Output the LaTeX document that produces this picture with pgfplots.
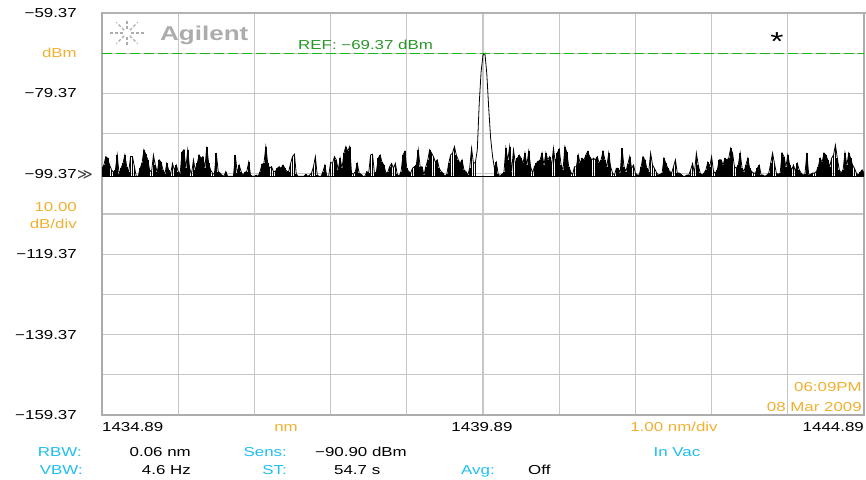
\documentclass[border=0pt]{standalone}
\usepackage{fontspec}
\setmainfont{Liberation Sans}[FakeStretch=1.3]
\newfontfamily\dejavu{DejaVu Sans}
\usepackage{pgfplots}
\usepackage{pgfplotstable}
\pgfplotsset{compat=1.18}
\definecolor{osaorange}{RGB}{240,176,48}
\definecolor{osacyan}{RGB}{30,190,240}
\definecolor{refgreen}{RGB}{40,150,40}
\definecolor{reflinegreen}{RGB}{20,185,20}
\definecolor{gridgray}{RGB}{198,198,198}
\definecolor{logogray}{RGB}{172,172,172}

% OSA trace, one sample every 0.025 nm from 1434.89 nm
\pgfplotstableread{
y
-98
-97.2
-95.1
-95.5
-97.2
-98.4
-99
-98.5
-94.7
-99.5
-98
-96.8
-94.7
-97.6
-99
-95.1
-95.1
-97.6
-100
-100
-98
-96.8
-93.4
-94.5
-95.9
-98.4
-99
-94.7
-97.2
-99
-95.9
-96.5
-98.4
-99.5
-96.8
-98.4
-99.5
-96.8
-98.4
-97.2
-98.8
-99.5
-94
-93.4
-98
-93.5
-98
-99.5
-95.9
-98.5
-96.8
-94.7
-95.5
-95.1
-98
-92.6
-96.8
-98.4
-99.2
-99.5
-94.2
-98.8
-99.2
-99.7
-100
-98.8
-100
-100
-100
-100
-94.7
-99.2
-97.2
-98.8
-99.7
-99
-98.8
-96.5
-99.7
-100
-100
-99.7
-100
-98.8
-97
-96.8
-92.6
-96.8
-98
-97.6
-98.8
-98.8
-98
-97.6
-98
-97.2
-98
-98.8
-98.8
-96.8
-95.1
-94.5
-99.5
-100
-100
-100
-100
-99.5
-100
-99.7
-99.2
-97.6
-95.1
-99.7
-100
-100
-98.8
-97.2
-100
-100
-96.5
-96.8
-95.1
-95.9
-98.5
-95.5
-98
-94.2
-92.6
-93.8
-92.6
-99.2
-99.5
-98.8
-96.8
-99.2
-99.5
-100
-100
-98.8
-99.2
-94.7
-94.5
-99.2
-99
-95.5
-94.7
-96.5
-97.2
-99.2
-99
-97.6
-96.8
-98
-96.8
-99.5
-100
-98.8
-94.7
-93.8
-98
-98.8
-99.2
-98
-97.6
-97.2
-93.4
-97.6
-97.6
-99.7
-97.6
-96
-93.4
-94.2
-95.1
-96.5
-95.9
-98
-98.8
-99.2
-100
-99.5
-96.8
-94.7
-94.2
-92.6
-94.7
-95.9
-96.8
-95.9
-98.4
-98.8
-99.7
-98
-93
-96.8
-96.5
-93.5
-82
-74
-69.8
-69.37
-74.5
-83
-90.5
-95
-98
-96.5
-99.5
-99.8
-99.5
-99
-93
-96
-92.6
-98.8
-93.4
-96.8
-95.5
-94.7
-95.5
-96.8
-94.2
-97.2
-93.8
-97.6
-99.2
-97.6
-96.8
-96.3
-95.9
-94.2
-97.2
-94.2
-95.9
-95.1
-97.2
-93
-96.8
-94.2
-93.2
-97.2
-98.4
-92.6
-94
-97.6
-98.8
-99.7
-97.6
-97.6
-94.7
-96.8
-95.5
-96
-94.7
-93.8
-95.1
-95.9
-95.5
-95.9
-95.1
-96.8
-95.9
-93.8
-95.9
-97.6
-94.2
-97.6
-99.2
-99.7
-98
-98
-99.2
-93
-97.6
-98.8
-97
-95.1
-98
-97.2
-99.2
-99.7
-99.7
-97.6
-95.1
-95.9
-98
-98.8
-94.2
-97.2
-98
-99
-99.7
-99.5
-99.2
-95.5
-96.8
-98
-98.8
-99.2
-97.6
-95.9
-99.2
-99.2
-99.5
-100
-100
-99.7
-99.7
-98.4
-96.8
-99.2
-94.2
-97.2
-99.2
-99.7
-99.2
-98.4
-96.5
-97.6
-95.1
-98.8
-99.2
-98.4
-95.9
-95.9
-97.2
-95.5
-95.9
-95.5
-93
-94.2
-97.6
-98
-97.2
-94.2
-98
-98.8
-97.2
-95.5
-98
-98.8
-99.2
-99.2
-98
-97.2
-99.7
-99.7
-100
-99.7
-99.2
-96.8
-94.2
-96.8
-99.2
-99.5
-99.2
-94.2
-95.1
-97.6
-94.7
-97.2
-98.4
-97.2
-98.8
-96.8
-98.4
-99.2
-99.7
-99.5
-94.2
-99.7
-99.5
-99.2
-99.2
-98.8
-97.6
-95.5
-96.5
-94.2
-94.7
-96
-97.6
-95.5
-94.7
-92.2
-95.5
-98.4
-99.2
-98.4
-94.2
-97.2
-94.2
-95.5
-97.2
-98
-99.2
-99.7
-99
-98.4
-99.2
}\noise

\begin{document}
\fontsize{13}{15}\selectfont
\begin{tikzpicture}
\useasboundingbox (0pt,0pt) rectangle (866pt,479pt);
\begin{axis}[
  at={(102pt,64pt)}, anchor=south west,
  scale only axis, width=762pt, height=402pt,
  xmin=1434.89, xmax=1444.89, ymin=-159.37, ymax=-59.37,
  xtick={1434.89,1435.89,1436.89,1437.89,1438.89,1439.89,1440.89,1441.89,1442.89,1443.89,1444.89},
  xticklabels={{},{},{},{},{},{},{},{},{},{},{}},
  ytick={-159.37,-149.37,-139.37,-129.37,-119.37,-109.37,-99.37,-89.37,-79.37,-79.37,-59.37},
  ytick={-159.37,-149.37,-139.37,-129.37,-119.37,-109.37,-99.37,-89.37,-79.37,-69.37,-59.37},
  yticklabels={−159.37,,−139.37,,−119.37,,−99.37,,−79.37,{\color{osaorange}dBm},−59.37},
  yticklabel style={anchor=east, inner sep=0pt, xshift=-25pt, text=black},
  major tick length=0pt,
  grid=major,
  major grid style={gridgray, line width=1.1pt},
  axis line style={gray!65, line width=1.2pt},
]
% noise floor drawn as strokes down to the -100 dBm floor, as the analyser does
\addplot[draw=none, mark=none, skip coords between index={197}{206},
  error bars/.cd, y dir=minus, y explicit, error mark=none,
  error bar style={draw=black, line width=1.7pt}]
  table[x expr=1434.89+0.025*\coordindex, y=y, y error expr=\thisrow{y}+100] {\noise};
\addplot[black, line width=0.8pt]
  table[x expr=1434.89+0.025*\coordindex, y=y] {\noise};
\addplot[black, line width=0.8pt] coordinates {(1434.89,-100) (1444.89,-100)};
% reference level line
\addplot[color=reflinegreen, solid, mark=none, line width=1.3pt, dash pattern=on 10pt off 4pt]
  coordinates {(1434.89,-69.37) (1444.89,-69.37)};
\end{axis}
% top frame line
\draw[gray!60, line width=2.5pt] (102pt,466pt) -- (866pt,466pt);
% Agilent logo
\foreach \a/\r in {0/18,180/18,90/12,270/12,45/15,135/15,225/15,315/15}{
  \draw[logogray, line width=1.3pt, dash pattern=on 3pt off 2pt, shift={(127pt,446pt)}] (\a:4pt) -- (\a:\r pt);
}
\node[anchor=base west, inner sep=0pt, text=logogray, font=\fontsize{20}{20}\selectfont\bfseries] at (160pt,438pt) {Agilent};
% reference label and marker
\node[anchor=base west, inner sep=0pt, text=refgreen] at (298pt,429pt) {REF: −69.37 dBm};
\node[anchor=base, inner sep=0pt, font=\fontsize{26}{26}\selectfont] at (777pt,428pt) {*};
% left annotations
\node[anchor=west, inner sep=0pt, text=black!75, font=\dejavu\fontsize{15}{15}\selectfont] at (77pt,304pt) {≫};
\node[anchor=base east, inner sep=0pt, text=osaorange] at (77pt,267pt) {10.00};
\node[anchor=base east, inner sep=0pt, text=osaorange] at (77pt,250pt) {dB/div};
% x labels
\node[anchor=base west, inner sep=0pt] at (102pt,48pt) {1434.89};
\node[anchor=base, inner sep=0pt, text=osaorange] at (286pt,48pt) {nm};
\node[anchor=base, inner sep=0pt] at (482pt,48pt) {1439.89};
\node[anchor=base, inner sep=0pt, text=osaorange] at (674pt,48pt) {1.00 nm/div};
\node[anchor=base east, inner sep=0pt] at (864pt,48pt) {1444.89};
% date
\node[anchor=base east, inner sep=0pt, text=osaorange] at (862pt,88pt) {06:09PM};
\node[anchor=base east, inner sep=0pt, text=osaorange] at (862pt,68pt) {08 Mar 2009};
% settings rows
\node[anchor=base east, inner sep=0pt, text=osacyan] at (82pt,23pt) {RBW:};
\node[anchor=base east, inner sep=0pt] at (191pt,23pt) {0.06 nm};
\node[anchor=base east, inner sep=0pt, text=osacyan] at (287pt,23pt) {Sens:};
\node[anchor=base west, inner sep=0pt] at (315pt,23pt) {−90.90 dBm};
\node[anchor=base, inner sep=0pt, text=osacyan] at (677pt,23pt) {In Vac};
\node[anchor=base east, inner sep=0pt, text=osacyan] at (83pt,5pt) {VBW:};
\node[anchor=base east, inner sep=0pt] at (191pt,5pt) {4.6 Hz};
\node[anchor=base east, inner sep=0pt, text=osacyan] at (287pt,5pt) {ST:};
\node[anchor=base west, inner sep=0pt] at (334pt,5pt) {54.7 s};
\node[anchor=base west, inner sep=0pt, text=osacyan] at (461pt,5pt) {Avg:};
\node[anchor=base west, inner sep=0pt] at (528pt,5pt) {Off};
\end{tikzpicture}
\end{document}
